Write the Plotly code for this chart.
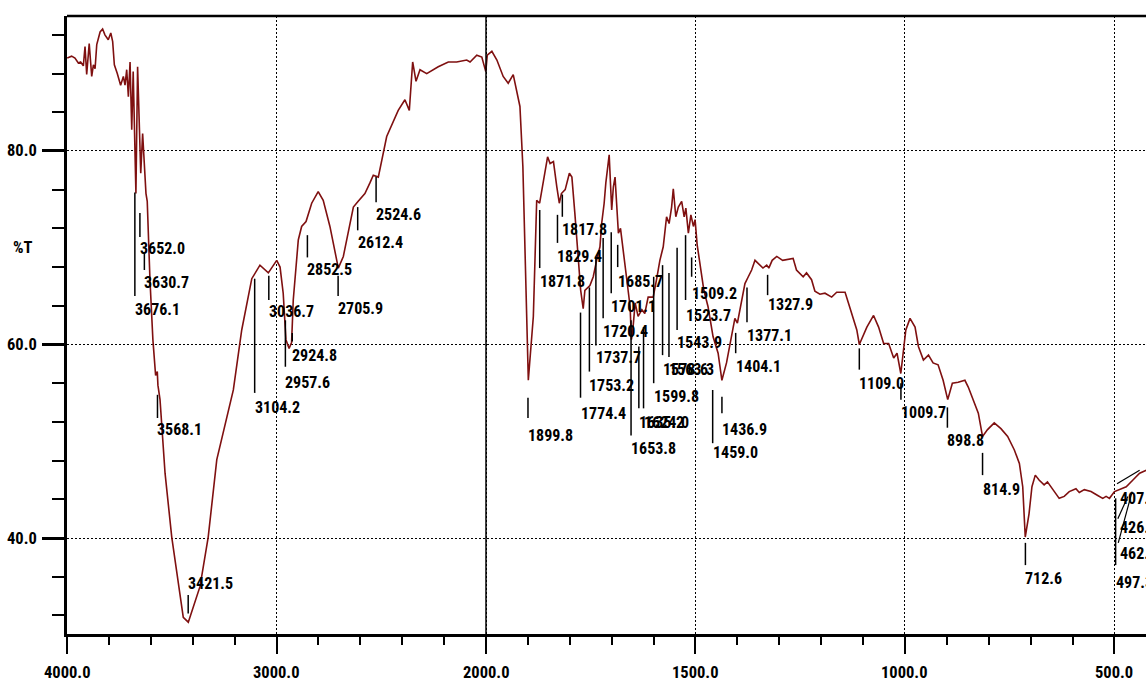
import plotly.graph_objects as go

# ---------------- spectrum data (wavenumber cm-1, %T) ----------------
wavenumber = [
    3999, 3978, 3962, 3946, 3935, 3922, 3914, 3906, 3894, 3882, 3874, 3866, 3858, 3842, 3830,
    3819, 3803, 3791, 3782, 3774, 3760, 3744, 3731, 3723, 3715, 3707, 3699, 3691, 3684, 3676,
    3671, 3663, 3655, 3648, 3639, 3632, 3623, 3617, 3604, 3590, 3580, 3577, 3569, 3566, 3556,
    3532, 3500, 3469, 3445, 3421, 3365, 3326, 3285, 3206, 3166, 3118, 3079, 3039, 2999, 2983,
    2968, 2955, 2940, 2928, 2920, 2896, 2880, 2859, 2832, 2801, 2777, 2745, 2721, 2705, 2681,
    2657, 2633, 2610, 2578, 2554, 2538, 2514, 2474, 2419, 2387, 2366, 2350, 2334, 2315, 2283,
    2228, 2180, 2140, 2092, 2076, 2044, 2020, 2001, 1997, 1986, 1974, 1959, 1947, 1935, 1923,
    1919, 1912, 1907, 1902, 1899, 1887, 1879, 1872, 1863, 1853, 1847, 1839, 1831, 1825, 1820,
    1811, 1801, 1795, 1788, 1780, 1774, 1768, 1764, 1752, 1744, 1736, 1728, 1724, 1718, 1714,
    1710, 1706, 1700, 1696, 1692, 1688, 1684, 1679, 1672, 1664, 1656, 1653, 1650, 1644, 1637,
    1628, 1621, 1613, 1601, 1593, 1585, 1577, 1569, 1563, 1557, 1553, 1547, 1541, 1533, 1527,
    1523, 1517, 1511, 1505, 1501, 1496, 1489, 1480, 1470, 1458, 1446, 1437, 1426, 1414, 1406,
    1400, 1390, 1382, 1374, 1366, 1358, 1346, 1339, 1330, 1325, 1317, 1306, 1292, 1267, 1259,
    1243, 1235, 1223, 1215, 1203, 1191, 1175, 1163, 1143, 1135, 1123, 1115, 1109, 1091, 1075,
    1063, 1051, 1039, 1027, 1019, 1010, 998, 988, 976, 968, 956, 944, 933, 921, 909,
    898, 887, 873, 857, 849, 837, 825, 815, 803, 787, 771, 755, 739, 727, 719,
    713, 704, 697, 689, 680, 668, 660, 648, 632, 620, 608, 592, 584, 572, 556,
    540, 528, 520, 512, 500, 488, 472, 456, 440, 424, 410, 400,
]
transmittance = [
    89.6, 89.8, 89.6, 89.1, 89.2, 88.8, 90.8, 87.9, 91.1, 87.7, 88.9, 88.5, 91.0, 92.3, 92.6,
    92.0, 91.5, 92.2, 91.3, 88.9, 88.0, 86.8, 87.7, 86.8, 88.4, 85.6, 89.2, 82.2, 88.2, 80.8,
    75.6, 88.7, 81.5, 77.7, 81.8, 79.1, 75.6, 74.8, 66.7, 60.5, 57.4, 56.8, 57.2, 55.8, 54.3,
    46.7, 40.1, 35.3, 31.8, 31.3, 35.0, 40.1, 48.1, 55.3, 61.5, 66.8, 68.2, 67.4, 68.7, 68.0,
    65.3, 60.5, 59.6, 60.2, 64.6, 70.8, 72.2, 72.7, 74.6, 75.8, 74.9, 72.2, 69.4, 67.9, 69.1,
    71.5, 74.2, 74.8, 75.6, 76.7, 77.5, 77.3, 81.5, 84.2, 85.3, 84.2, 89.2, 87.2, 88.4, 88.0,
    88.7, 89.2, 89.2, 89.4, 89.2, 89.9, 89.7, 88.2, 89.9, 90.3, 89.4, 87.7, 87.0, 87.9, 85.6,
    84.6, 78.4, 69.8, 61.2, 56.3, 62.9, 74.9, 74.6, 77.0, 79.4, 78.7, 78.9, 76.3, 74.6, 75.6,
    76.0, 77.7, 77.3, 73.6, 68.7, 65.6, 63.7, 65.6, 66.1, 67.0, 68.7, 70.1, 72.5, 74.6, 76.7,
    78.4, 79.6, 73.9, 76.3, 77.3, 73.9, 71.5, 72.0, 69.4, 66.7, 63.9, 60.5, 61.3, 64.3, 62.9,
    63.6, 63.2, 64.9, 64.9, 66.7, 68.7, 70.1, 73.2, 72.5, 74.2, 76.1, 73.2, 74.2, 74.8, 73.2,
    74.1, 71.5, 73.4, 72.2, 72.9, 70.3, 68.0, 65.6, 63.9, 60.8, 59.1, 56.3, 58.1, 60.8, 62.7,
    62.2, 64.3, 66.3, 67.0, 67.7, 68.7, 68.2, 67.9, 68.2, 67.9, 68.7, 69.1, 68.7, 68.9, 67.7,
    67.0, 67.4, 66.7, 65.5, 65.2, 65.3, 64.9, 65.4, 65.4, 64.3, 62.5, 61.5, 60.0, 61.8, 63.0,
    61.8, 60.1, 60.1, 58.6, 59.1, 57.0, 61.5, 62.7, 61.8, 59.8, 58.4, 58.9, 58.1, 57.9, 56.3,
    54.3, 56.0, 56.1, 56.3, 55.6, 54.3, 52.9, 50.5, 51.2, 51.9, 51.3, 50.5, 49.1, 47.7, 45.3,
    40.1, 42.5, 45.3, 46.5, 46.0, 45.5, 45.8, 45.1, 44.1, 44.3, 44.8, 45.1, 44.7, 45.0, 44.8,
    44.4, 44.1, 44.3, 44.1, 44.8, 45.0, 45.3, 46.0, 46.7, 47.0, 47.5, 48.0,
]

# ---------------- peak labels ----------------
peak_wn = [3676.1, 3652.0, 3630.7, 3568.1, 3421.5, 3104.2, 3036.7, 2957.6, 2924.8, 2852.5,
           2705.9, 2612.4, 2524.6, 1899.8, 1871.8, 1829.4, 1817.8, 1774.4, 1753.2, 1737.7,
           1720.4, 1701.1, 1685.7, 1653.8, 1635.2, 1624.0, 1599.8, 1578.6, 1563.3, 1543.9,
           1523.7, 1509.2, 1459.0, 1436.9, 1404.1, 1377.1, 1327.9, 1109.0, 1009.7, 898.8,
           814.9, 712.6, 497.3]
peak_tick_top = [75.7, 73.6, 69.5, 54.8, 34.1, 66.8, 67.1, 62.5, 61.2, 71.3,
                 67.1, 74.2, 77.3, 54.5, 73.9, 73.4, 75.5, 63.3, 65.9, 69.0,
                 71.0, 71.6, 70.3, 62.5, 59.8, 61.8, 67.0, 68.2, 67.4, 70.0,
                 71.3, 69.0, 55.3, 54.6, 61.2, 65.9, 67.2, 59.6, 56.0, 53.5,
                 48.8, 39.5, 44.1]
peak_tick_bottom = [65.0, 71.1, 67.7, 52.4, 32.2, 55.0, 64.6, 57.7, 60.3, 69.0,
                    65.0, 71.8, 74.7, 52.4, 67.9, 70.5, 73.2, 54.5, 57.2, 59.9,
                    62.7, 65.3, 68.0, 50.6, 53.4, 53.4, 56.0, 58.9, 58.7, 61.5,
                    64.6, 67.0, 49.8, 52.9, 59.1, 62.3, 65.1, 57.4, 54.3, 51.4,
                    46.5, 37.2, 37.2]
peak_text_y = [63.6, 69.9, 66.4, 51.2, 35.3, 53.5, 63.4, 56.1, 58.9, 67.7,
               63.7, 70.5, 73.4, 50.6, 66.5, 69.1, 71.9, 52.9, 55.8, 58.7,
               61.3, 63.9, 66.5, 49.3, 51.9, 51.9, 54.6, 57.4, 57.4, 60.2,
               63.0, 65.3, 48.8, 51.2, 57.7, 60.9, 64.1, 56.0, 53.0, 50.1,
               45.0, 35.8, 35.4]

# crowded labels at the low-wavenumber end (text stacked, joined by leader lines)
edge_wn = [407.3, 426.5, 462.1]
edge_text_y = [44.1, 41.1, 38.4]
edge_text_wn = [486.0, 486.0, 486.0]
leader_from_wn = [494.0, 492.0, 491.0]
leader_from_t = [45.6, 42.0, 39.5]
leader_to_wn = [440.0, 468.0, 458.0]
leader_to_t = [47.0, 44.3, 44.8]

x_tick_wn = [4000, 3000, 2000, 1500, 1000, 500]
x_tick_text = ["4000.0", "3000.0", "2000.0", "1500.0", "1000.0", "500.0"]
y_tick_vals = [40, 60, 80]
y_tick_text = ["40.0", "60.0", "80.0"]
SPLIT_WN = 2000

X_RANGE = [0, 5.1504]
Y_RANGE = [30.08, 93.95]


def u(wn):
    """Shimadzu-style axis: scale doubles below 2000 cm-1."""
    if wn >= SPLIT_WN:
        return (4000 - wn) / 1000.0
    return 2 + (SPLIT_WN - wn) / 500.0


FONT = "Roboto Condensed, Liberation Sans, Arial, sans-serif"
CURVE = "#7f1010"
LABEL_FONT = dict(family=FONT, size=16, color="black", weight="bold")
TICK_FONT = dict(family=FONT, size=16.5, color="black", weight="bold")

fig = go.Figure()
fig.add_trace(go.Scatter(
    x=[u(w) for w in wavenumber], y=transmittance, mode="lines",
    line=dict(color=CURVE, width=1.6), hoverinfo="skip", showlegend=False,
))

shapes = []
annotations = []
for wn, top, bot, ty in zip(peak_wn, peak_tick_top, peak_tick_bottom, peak_text_y):
    shapes.append(dict(type="line", xref="x", yref="y", x0=u(wn), x1=u(wn), y0=top, y1=bot,
                       line=dict(color="black", width=1.5)))
    annotations.append(dict(x=u(wn), y=ty, xref="x", yref="y", text=f"{wn:.1f}", showarrow=False,
                            xanchor="left", yanchor="middle", xshift=-2, font=LABEL_FONT))

for wn, ty, twn in zip(edge_wn, edge_text_y, edge_text_wn):
    annotations.append(dict(x=u(twn), y=ty, xref="x", yref="y", text=f"{wn:.1f}", showarrow=False,
                            xanchor="left", yanchor="middle", xshift=-2, font=LABEL_FONT))
for fw, ft, tw, tt in zip(leader_from_wn, leader_from_t, leader_to_wn, leader_to_t):
    shapes.append(dict(type="line", xref="x", yref="y", x0=u(fw), x1=u(tw), y0=ft, y1=tt,
                       line=dict(color="black", width=1.2)))

# axis tick labels as text placed relative to the axes
for wn, txt in zip(x_tick_wn, x_tick_text):
    annotations.append(dict(x=u(wn), y=0, xref="x", yref="paper", text=txt, showarrow=False,
                            xanchor="center", yanchor="middle", yshift=-38, font=TICK_FONT))
for v, txt in zip(y_tick_vals, y_tick_text):
    annotations.append(dict(x=0, y=v, xref="paper", yref="y", text=txt, showarrow=False,
                            xanchor="right", yanchor="middle", xshift=-28, font=TICK_FONT))

# solid reference line at the scale split (2000 cm-1)
shapes.append(dict(type="line", xref="x", yref="paper", x0=u(SPLIT_WN), x1=u(SPLIT_WN), y0=0, y1=1,
                   line=dict(color="black", width=1.5)))
# top frame line
shapes.append(dict(type="line", xref="paper", yref="paper", x0=0, x1=1, y0=1, y1=1,
                   line=dict(color="black", width=2.5)))

annotations.append(dict(x=0, y=70, xref="paper", yref="y", text="%T", showarrow=False,
                        xanchor="center", yanchor="middle", xshift=-44, font=TICK_FONT))

fig.update_layout(
    width=1146, height=684,
    margin=dict(l=67, r=0, t=16, b=50, autoexpand=False),
    paper_bgcolor="white", plot_bgcolor="white",
    shapes=shapes, annotations=annotations,
    xaxis=dict(
        range=X_RANGE, tickmode="array", tickvals=[u(w) for w in x_tick_wn],
        showticklabels=False, automargin=False,
        showline=True, linecolor="black", linewidth=3, mirror=False,
        ticks="outside", ticklen=17, tickwidth=2, tickcolor="black",
        showgrid=True, gridcolor="black", gridwidth=1, griddash="2px,2px",
        minor=dict(dtick=0.2, tick0=0, ticks="outside", ticklen=8, tickwidth=2,
                   tickcolor="black", showgrid=False),
        zeroline=False, fixedrange=True,
    ),
    yaxis=dict(
        range=Y_RANGE, tickmode="array", tickvals=y_tick_vals,
        showticklabels=False, automargin=False,
        showline=True, linecolor="black", linewidth=2.5, mirror=False,
        ticks="outside", ticklen=22, tickwidth=2.5, tickcolor="black",
        showgrid=True, gridcolor="black", gridwidth=1, griddash="2px,2px",
        minor=dict(dtick=4, tick0=0, ticks="outside", ticklen=12, tickwidth=2,
                   tickcolor="black", showgrid=False),
        zeroline=False, fixedrange=True,
    ),
)

# remove the default page margin so the figure fills the 1146x684 window exactly
fig.write_html(
    "out.html",
    config={"displayModeBar": False},
    post_script="document.body.style.margin='0';document.documentElement.style.overflow='hidden';document.body.style.overflow='hidden';",
)
